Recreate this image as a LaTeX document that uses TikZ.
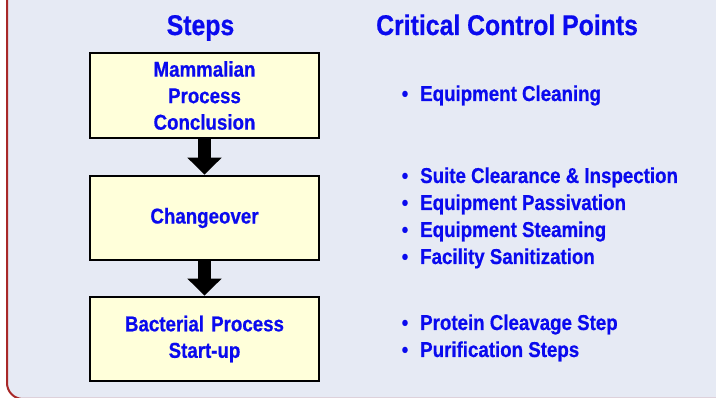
\documentclass[tikz,border=0pt]{standalone}
\usepackage{fontspec}
\setmainfont[FakeStretch=0.87,FakeBold=0.6]{Liberation Sans}
\usetikzlibrary{arrows.meta}
\definecolor{panelbg}{HTML}{E6EAF4}
\definecolor{panelrim}{HTML}{A82828}
\definecolor{boxfill}{HTML}{FFFFDA}
\definecolor{inkblue}{HTML}{0A0AEE}
\tikzset{
  heading/.style={font=\bfseries\fontsize{28.5}{30}\selectfont, text=inkblue, inner sep=0pt},
  stepbox/.style={draw=black, line width=2.5pt, fill=boxfill, minimum width=229pt,
    text width=220pt, align=center, inner sep=0pt, text=inkblue,
    font=\bfseries\fontsize{21.5}{26.5}\selectfont},
  flowarrow/.style={line width=13pt, -{Triangle[width=33pt,length=17pt]}},
  item/.style={anchor=base west, inner sep=0pt, text=inkblue,
    font=\bfseries\fontsize{21.5}{26}\selectfont},
  dot/.style={anchor=base, inner sep=0pt, text=inkblue,
    font=\bfseries\fontsize{21.5}{26}\selectfont},
}
\begin{document}
\begin{tikzpicture}[x=1pt, y=-1pt]
  \useasboundingbox (0,0) rectangle (716,398);
  % panel with rounded lower-left corner, open to the top and right
  \draw[panelrim, fill=panelbg, line width=2pt, rounded corners=16pt]
    (7,-30) rectangle (760,399);

  % column headings
  \node[heading, anchor=base] (hsteps) at (200.5,35) {Steps};
  \node[heading, anchor=base west] (hccp) at (376,35) {Critical Control Points};

  % process steps
  \node[stepbox, minimum height=85pt] (s1) at (204.5,95.5) {Mammalian\\Process\\Conclusion};
  \node[stepbox, minimum height=84pt] (s2) at (204.5,218) {Changeover};
  \node[stepbox, minimum height=84pt] (s3) at (204.5,339) {Bacterial Process\\Start-up};

  \draw[flowarrow] (s1.south) -- (s2.north);
  \draw[flowarrow] (s2.south) -- (s3.north);

  % critical control points
  \node[dot] (d1) at (405,101) {•};
  \node[item] (c1) at (420,101) {Equipment Cleaning};
  \node[dot] (d2) at (405,183) {•};
  \node[item] (c2) at (420,183) {Suite Clearance \& Inspection};
  \node[dot] (d3) at (405,210) {•};
  \node[item] (c3) at (420,210) {Equipment Passivation};
  \node[dot] (d4) at (405,237) {•};
  \node[item] (c4) at (420,237) {Equipment Steaming};
  \node[dot] (d5) at (405,264) {•};
  \node[item] (c5) at (420,264) {Facility Sanitization};
  \node[dot] (d6) at (405,330) {•};
  \node[item] (c6) at (420,330) {Protein Cleavage Step};
  \node[dot] (d7) at (405,357) {•};
  \node[item] (c7) at (420,357) {Purification Steps};
\end{tikzpicture}
\end{document}
